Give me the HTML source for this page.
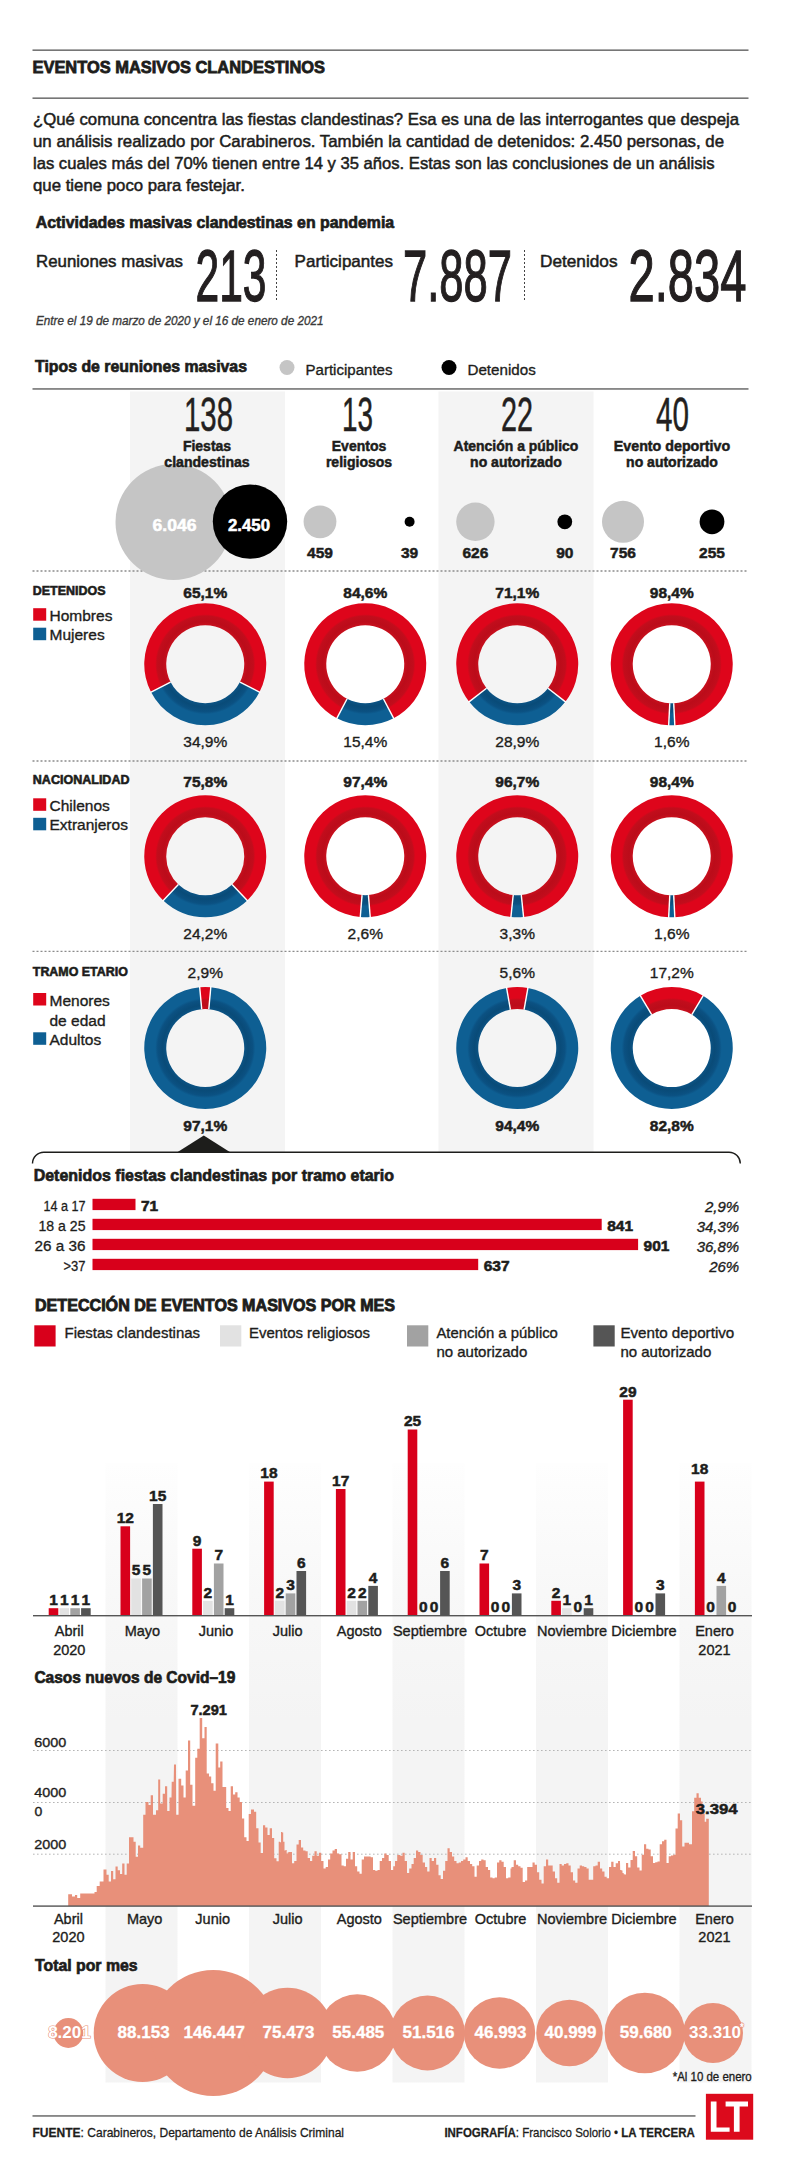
<!DOCTYPE html>
<html><head><meta charset="utf-8"><title>Eventos masivos clandestinos</title>
<style>html,body{margin:0;padding:0;background:#fff;}svg{display:block;}
text{font-family:"Liberation Sans",sans-serif;}</style></head>
<body><svg width="800" height="2184" viewBox="0 0 800 2184" font-family="Liberation Sans, sans-serif" fill="#1d1d1b">
<rect width="800" height="2184" fill="#fff"/>
<defs>
<radialGradient id="gr" gradientUnits="userSpaceOnUse" cx="0" cy="0" r="61">
<stop offset="0.64" stop-color="#c80f1d"/><stop offset="0.70" stop-color="#bb0c1a"/><stop offset="0.79" stop-color="#c20d1c"/>
<stop offset="0.82" stop-color="#de051b"/><stop offset="1" stop-color="#de051b"/></radialGradient>
<radialGradient id="gb" gradientUnits="userSpaceOnUse" cx="0" cy="0" r="61">
<stop offset="0.64" stop-color="#0b5384"/><stop offset="0.70" stop-color="#094b78"/><stop offset="0.78" stop-color="#0b5182"/>
<stop offset="0.82" stop-color="#0e5f93"/><stop offset="1" stop-color="#0e5f93"/></radialGradient>
<linearGradient id="band" gradientUnits="userSpaceOnUse" x1="0" y1="1463" x2="0" y2="1720">
<stop offset="0" stop-color="#fefefe"/><stop offset="0.5" stop-color="#f8f8f8"/><stop offset="1" stop-color="#f4f4f4"/></linearGradient>
</defs>
<rect x="32.5" y="49.5" width="716" height="1.3" fill="#555"/>
<text x="32.5" y="73" font-size="16.8" font-weight="bold" textLength="292.5" lengthAdjust="spacingAndGlyphs" stroke="#1d1d1b" stroke-width="0.8">EVENTOS MASIVOS CLANDESTINOS</text>
<rect x="32.5" y="97.5" width="716" height="1.3" fill="#555"/>
<text x="33" y="125" font-size="16.4" textLength="706" lengthAdjust="spacingAndGlyphs" stroke="#1d1d1b" stroke-width="0.5">¿Qué comuna concentra las fiestas clandestinas? Esa es una de las interrogantes que despeja</text>
<text x="33" y="147" font-size="16.4" textLength="691" lengthAdjust="spacingAndGlyphs" stroke="#1d1d1b" stroke-width="0.5">un análisis realizado por Carabineros. También la cantidad de detenidos: 2.450 personas, de</text>
<text x="33" y="169" font-size="16.4" textLength="681.5" lengthAdjust="spacingAndGlyphs" stroke="#1d1d1b" stroke-width="0.5">las cuales más del 70% tienen entre 14 y 35 años. Estas son las conclusiones de un análisis</text>
<text x="33" y="191" font-size="16.4" textLength="211.8" lengthAdjust="spacingAndGlyphs" stroke="#1d1d1b" stroke-width="0.5">que tiene poco para festejar.</text>
<text x="35.7" y="227.5" font-size="16.6" font-weight="bold" textLength="358.5" lengthAdjust="spacingAndGlyphs" stroke="#1d1d1b" stroke-width="0.7">Actividades masivas clandestinas en pandemia</text>
<text x="36" y="266.5" font-size="16.6" textLength="147" lengthAdjust="spacingAndGlyphs" stroke="#1d1d1b" stroke-width="0.5">Reuniones masivas</text>
<text x="294.6" y="266.5" font-size="16.6" textLength="98.4" lengthAdjust="spacingAndGlyphs" stroke="#1d1d1b" stroke-width="0.5">Participantes</text>
<text x="540" y="266.5" font-size="16.6" textLength="77.5" lengthAdjust="spacingAndGlyphs" stroke="#1d1d1b" stroke-width="0.5">Detenidos</text>
<text x="195.5" y="300.8" font-size="71.6" fill="#231f20" textLength="71" lengthAdjust="spacingAndGlyphs" stroke="#231f20" stroke-width="1.3">213</text>
<text x="403" y="300.8" font-size="71.6" fill="#231f20" textLength="109" lengthAdjust="spacingAndGlyphs" stroke="#231f20" stroke-width="1.3">7.887</text>
<text x="628.5" y="300.8" font-size="71.6" fill="#231f20" textLength="118" lengthAdjust="spacingAndGlyphs" stroke="#231f20" stroke-width="1.3">2.834</text>
<line x1="276.5" y1="250" x2="276.5" y2="302" stroke="#444" stroke-width="1" stroke-dasharray="2,2"/>
<line x1="524.5" y1="250" x2="524.5" y2="302" stroke="#444" stroke-width="1" stroke-dasharray="2,2"/>
<text x="36" y="324.5" font-size="13" font-style="italic" fill="#3a3a3a" textLength="287.5" lengthAdjust="spacingAndGlyphs" stroke="#3a3a3a" stroke-width="0.35">Entre el 19 de marzo de 2020 y el 16 de enero de 2021</text>
<text x="35" y="372" font-size="16.4" font-weight="bold" textLength="212" lengthAdjust="spacingAndGlyphs" stroke="#1d1d1b" stroke-width="0.7">Tipos de reuniones masivas</text>
<circle cx="287" cy="367.5" r="7.5" fill="#c5c5c5"/>
<text x="305.5" y="374.7" font-size="15.5" textLength="87" lengthAdjust="spacingAndGlyphs" stroke="#1d1d1b" stroke-width="0.35">Participantes</text>
<circle cx="449" cy="367.5" r="7.5" fill="#000"/>
<text x="467.5" y="374.7" font-size="15.5" textLength="68.2" lengthAdjust="spacingAndGlyphs" stroke="#1d1d1b" stroke-width="0.35">Detenidos</text>
<rect x="130" y="391.5" width="155" height="760.5" fill="#f4f4f4"/>
<rect x="438.5" y="391.5" width="155" height="760.5" fill="#f4f4f4"/>
<rect x="32.5" y="388.3" width="716" height="1.3" fill="#555"/>
<line x1="32.5" y1="571" x2="748" y2="571" stroke="#8c8c8c" stroke-width="1.3" stroke-dasharray="2,2"/>
<circle cx="173.5" cy="522" r="58" fill="#c5c5c5"/>
<circle cx="250" cy="521.6" r="37.2" fill="#000"/>
<text x="174.5" y="530.8" font-size="16" font-weight="bold" text-anchor="middle" fill="#fff" textLength="44" lengthAdjust="spacingAndGlyphs" stroke="#fff" stroke-width="0.5">6.046</text>
<text x="249" y="530.8" font-size="16" font-weight="bold" text-anchor="middle" fill="#fff" textLength="42" lengthAdjust="spacingAndGlyphs" stroke="#fff" stroke-width="0.5">2.450</text>
<circle cx="320" cy="521.8" r="16.4" fill="#c5c5c5"/>
<text x="320" y="558" font-size="15.5" font-weight="bold" text-anchor="middle" stroke="#1d1d1b" stroke-width="0.5">459</text>
<circle cx="409.6" cy="521.8" r="5" fill="#000"/>
<text x="409.6" y="558" font-size="15.5" font-weight="bold" text-anchor="middle" stroke="#1d1d1b" stroke-width="0.5">39</text>
<circle cx="475.4" cy="521.8" r="19.2" fill="#c5c5c5"/>
<text x="475.4" y="558" font-size="15.5" font-weight="bold" text-anchor="middle" stroke="#1d1d1b" stroke-width="0.5">626</text>
<circle cx="564.8" cy="521.8" r="7.4" fill="#000"/>
<text x="564.8" y="558" font-size="15.5" font-weight="bold" text-anchor="middle" stroke="#1d1d1b" stroke-width="0.5">90</text>
<circle cx="623" cy="521.8" r="21" fill="#c5c5c5"/>
<text x="623" y="558" font-size="15.5" font-weight="bold" text-anchor="middle" stroke="#1d1d1b" stroke-width="0.5">756</text>
<circle cx="712" cy="521.8" r="12.4" fill="#000"/>
<text x="712" y="558" font-size="15.5" font-weight="bold" text-anchor="middle" stroke="#1d1d1b" stroke-width="0.5">255</text>
<text x="184" y="431" font-size="47.6" fill="#231f20" textLength="49" lengthAdjust="spacingAndGlyphs" stroke="#231f20" stroke-width="0.5">138</text>
<text x="207" y="451.0" font-size="14" font-weight="bold" text-anchor="middle" textLength="48.2" lengthAdjust="spacingAndGlyphs" stroke="#1d1d1b" stroke-width="0.5">Fiestas</text>
<text x="207" y="466.5" font-size="14" font-weight="bold" text-anchor="middle" textLength="85.4" lengthAdjust="spacingAndGlyphs" stroke="#1d1d1b" stroke-width="0.5">clandestinas</text>
<text x="342" y="431" font-size="47.6" fill="#231f20" textLength="31" lengthAdjust="spacingAndGlyphs" stroke="#231f20" stroke-width="0.5">13</text>
<text x="359" y="451.0" font-size="14" font-weight="bold" text-anchor="middle" stroke="#1d1d1b" stroke-width="0.5">Eventos</text>
<text x="359" y="466.5" font-size="14" font-weight="bold" text-anchor="middle" stroke="#1d1d1b" stroke-width="0.5">religiosos</text>
<text x="501" y="431" font-size="47.6" fill="#231f20" textLength="32" lengthAdjust="spacingAndGlyphs" stroke="#231f20" stroke-width="0.5">22</text>
<text x="516" y="451.0" font-size="14" font-weight="bold" text-anchor="middle" textLength="124.8" lengthAdjust="spacingAndGlyphs" stroke="#1d1d1b" stroke-width="0.5">Atención a público</text>
<text x="516" y="466.5" font-size="14" font-weight="bold" text-anchor="middle" stroke="#1d1d1b" stroke-width="0.5">no autorizado</text>
<text x="656" y="431" font-size="47.6" fill="#231f20" textLength="33" lengthAdjust="spacingAndGlyphs" stroke="#231f20" stroke-width="0.5">40</text>
<text x="672" y="451.0" font-size="14" font-weight="bold" text-anchor="middle" textLength="116.3" lengthAdjust="spacingAndGlyphs" stroke="#1d1d1b" stroke-width="0.5">Evento deportivo</text>
<text x="672" y="466.5" font-size="14" font-weight="bold" text-anchor="middle" stroke="#1d1d1b" stroke-width="0.5">no autorizado</text>
<g transform="translate(205.25,664.25)">
<path d="M-54.26,27.86 A61,61 0 1 1 54.26,27.86 L34.69,17.81 A39,39 0 1 0 -34.69,17.81 Z" fill="url(#gr)"/>
<path d="M54.26,27.86 A61,61 0 0 1 -54.26,27.86 L-34.69,17.81 A39,39 0 0 0 34.69,17.81 Z" fill="url(#gb)"/>
<line x1="34.69" y1="17.81" x2="55.15" y2="28.32" stroke="#fff" stroke-width="1.4"/>
<line x1="-34.69" y1="17.81" x2="-55.15" y2="28.32" stroke="#fff" stroke-width="1.4"/>
</g>
<text x="205.25" y="597.5" font-size="15.5" font-weight="bold" text-anchor="middle" stroke="#1d1d1b" stroke-width="0.5">65,1%</text>
<text x="205.25" y="746.5" font-size="15.5" text-anchor="middle" stroke="#1d1d1b" stroke-width="0.35">34,9%</text>
<g transform="translate(365.25,664.25)">
<path d="M-28.37,54.00 A61,61 0 1 1 28.37,54.00 L18.14,34.52 A39,39 0 1 0 -18.14,34.52 Z" fill="url(#gr)"/>
<path d="M28.37,54.00 A61,61 0 0 1 -28.37,54.00 L-18.14,34.52 A39,39 0 0 0 18.14,34.52 Z" fill="url(#gb)"/>
<line x1="18.14" y1="34.52" x2="28.84" y2="54.88" stroke="#fff" stroke-width="1.4"/>
<line x1="-18.14" y1="34.52" x2="-28.84" y2="54.88" stroke="#fff" stroke-width="1.4"/>
</g>
<text x="365.25" y="597.5" font-size="15.5" font-weight="bold" text-anchor="middle" stroke="#1d1d1b" stroke-width="0.5">84,6%</text>
<text x="365.25" y="746.5" font-size="15.5" text-anchor="middle" stroke="#1d1d1b" stroke-width="0.35">15,4%</text>
<g transform="translate(517.25,664.25)">
<path d="M-48.08,37.54 A61,61 0 1 1 48.08,37.54 L30.74,24.00 A39,39 0 1 0 -30.74,24.00 Z" fill="url(#gr)"/>
<path d="M48.08,37.54 A61,61 0 0 1 -48.08,37.54 L-30.74,24.00 A39,39 0 0 0 30.74,24.00 Z" fill="url(#gb)"/>
<line x1="30.74" y1="24.00" x2="48.87" y2="38.15" stroke="#fff" stroke-width="1.4"/>
<line x1="-30.74" y1="24.00" x2="-48.87" y2="38.15" stroke="#fff" stroke-width="1.4"/>
</g>
<text x="517.25" y="597.5" font-size="15.5" font-weight="bold" text-anchor="middle" stroke="#1d1d1b" stroke-width="0.5">71,1%</text>
<text x="517.25" y="746.5" font-size="15.5" text-anchor="middle" stroke="#1d1d1b" stroke-width="0.35">28,9%</text>
<g transform="translate(671.75,664.25)">
<path d="M-3.06,60.92 A61,61 0 1 1 3.06,60.92 L1.96,38.95 A39,39 0 1 0 -1.96,38.95 Z" fill="url(#gr)"/>
<path d="M3.06,60.92 A61,61 0 0 1 -3.06,60.92 L-1.96,38.95 A39,39 0 0 0 1.96,38.95 Z" fill="url(#gb)"/>
<line x1="1.96" y1="38.95" x2="3.12" y2="61.92" stroke="#fff" stroke-width="1.4"/>
<line x1="-1.96" y1="38.95" x2="-3.12" y2="61.92" stroke="#fff" stroke-width="1.4"/>
</g>
<text x="671.75" y="597.5" font-size="15.5" font-weight="bold" text-anchor="middle" stroke="#1d1d1b" stroke-width="0.5">98,4%</text>
<text x="671.75" y="746.5" font-size="15.5" text-anchor="middle" stroke="#1d1d1b" stroke-width="0.35">1,6%</text>
<g transform="translate(205.25,856.25)">
<path d="M-42.04,44.20 A61,61 0 1 1 42.04,44.20 L26.88,28.26 A39,39 0 1 0 -26.88,28.26 Z" fill="url(#gr)"/>
<path d="M42.04,44.20 A61,61 0 0 1 -42.04,44.20 L-26.88,28.26 A39,39 0 0 0 26.88,28.26 Z" fill="url(#gb)"/>
<line x1="26.88" y1="28.26" x2="42.73" y2="44.93" stroke="#fff" stroke-width="1.4"/>
<line x1="-26.88" y1="28.26" x2="-42.73" y2="44.93" stroke="#fff" stroke-width="1.4"/>
</g>
<text x="205.25" y="787" font-size="15.5" font-weight="bold" text-anchor="middle" stroke="#1d1d1b" stroke-width="0.5">75,8%</text>
<text x="205.25" y="939" font-size="15.5" text-anchor="middle" stroke="#1d1d1b" stroke-width="0.35">24,2%</text>
<g transform="translate(365.25,856.25)">
<path d="M-4.98,60.80 A61,61 0 1 1 4.98,60.80 L3.18,38.87 A39,39 0 1 0 -3.18,38.87 Z" fill="url(#gr)"/>
<path d="M4.98,60.80 A61,61 0 0 1 -4.98,60.80 L-3.18,38.87 A39,39 0 0 0 3.18,38.87 Z" fill="url(#gb)"/>
<line x1="3.18" y1="38.87" x2="5.06" y2="61.79" stroke="#fff" stroke-width="1.4"/>
<line x1="-3.18" y1="38.87" x2="-5.06" y2="61.79" stroke="#fff" stroke-width="1.4"/>
</g>
<text x="365.25" y="787" font-size="15.5" font-weight="bold" text-anchor="middle" stroke="#1d1d1b" stroke-width="0.5">97,4%</text>
<text x="365.25" y="939" font-size="15.5" text-anchor="middle" stroke="#1d1d1b" stroke-width="0.35">2,6%</text>
<g transform="translate(517.25,856.25)">
<path d="M-6.31,60.67 A61,61 0 1 1 6.31,60.67 L4.04,38.79 A39,39 0 1 0 -4.04,38.79 Z" fill="url(#gr)"/>
<path d="M6.31,60.67 A61,61 0 0 1 -6.31,60.67 L-4.04,38.79 A39,39 0 0 0 4.04,38.79 Z" fill="url(#gb)"/>
<line x1="4.04" y1="38.79" x2="6.42" y2="61.67" stroke="#fff" stroke-width="1.4"/>
<line x1="-4.04" y1="38.79" x2="-6.42" y2="61.67" stroke="#fff" stroke-width="1.4"/>
</g>
<text x="517.25" y="787" font-size="15.5" font-weight="bold" text-anchor="middle" stroke="#1d1d1b" stroke-width="0.5">96,7%</text>
<text x="517.25" y="939" font-size="15.5" text-anchor="middle" stroke="#1d1d1b" stroke-width="0.35">3,3%</text>
<g transform="translate(671.75,856.25)">
<path d="M-3.06,60.92 A61,61 0 1 1 3.06,60.92 L1.96,38.95 A39,39 0 1 0 -1.96,38.95 Z" fill="url(#gr)"/>
<path d="M3.06,60.92 A61,61 0 0 1 -3.06,60.92 L-1.96,38.95 A39,39 0 0 0 1.96,38.95 Z" fill="url(#gb)"/>
<line x1="1.96" y1="38.95" x2="3.12" y2="61.92" stroke="#fff" stroke-width="1.4"/>
<line x1="-1.96" y1="38.95" x2="-3.12" y2="61.92" stroke="#fff" stroke-width="1.4"/>
</g>
<text x="671.75" y="787" font-size="15.5" font-weight="bold" text-anchor="middle" stroke="#1d1d1b" stroke-width="0.5">98,4%</text>
<text x="671.75" y="939" font-size="15.5" text-anchor="middle" stroke="#1d1d1b" stroke-width="0.35">1,6%</text>
<g transform="translate(205.25,1048)">
<path d="M5.55,-60.75 A61,61 0 1 1 -5.55,-60.75 L-3.55,-38.84 A39,39 0 1 0 3.55,-38.84 Z" fill="url(#gb)"/>
<path d="M-5.55,-60.75 A61,61 0 0 1 5.55,-60.75 L3.55,-38.84 A39,39 0 0 0 -3.55,-38.84 Z" fill="url(#gr)"/>
<line x1="-3.55" y1="-38.84" x2="-5.64" y2="-61.74" stroke="#fff" stroke-width="1.4"/>
<line x1="3.55" y1="-38.84" x2="5.64" y2="-61.74" stroke="#fff" stroke-width="1.4"/>
</g>
<text x="205.25" y="977.5" font-size="15.5" text-anchor="middle" stroke="#1d1d1b" stroke-width="0.35">2,9%</text>
<text x="205.25" y="1130.8" font-size="15.5" font-weight="bold" text-anchor="middle" stroke="#1d1d1b" stroke-width="0.5">97,1%</text>
<g transform="translate(517.25,1048)">
<path d="M10.68,-60.06 A61,61 0 1 1 -10.68,-60.06 L-6.83,-38.40 A39,39 0 1 0 6.83,-38.40 Z" fill="url(#gb)"/>
<path d="M-10.68,-60.06 A61,61 0 0 1 10.68,-60.06 L6.83,-38.40 A39,39 0 0 0 -6.83,-38.40 Z" fill="url(#gr)"/>
<line x1="-6.83" y1="-38.40" x2="-10.85" y2="-61.04" stroke="#fff" stroke-width="1.4"/>
<line x1="6.83" y1="-38.40" x2="10.85" y2="-61.04" stroke="#fff" stroke-width="1.4"/>
</g>
<text x="517.25" y="977.5" font-size="15.5" text-anchor="middle" stroke="#1d1d1b" stroke-width="0.35">5,6%</text>
<text x="517.25" y="1130.8" font-size="15.5" font-weight="bold" text-anchor="middle" stroke="#1d1d1b" stroke-width="0.5">94,4%</text>
<g transform="translate(671.75,1048)">
<path d="M31.38,-52.31 A61,61 0 1 1 -31.38,-52.31 L-20.06,-33.44 A39,39 0 1 0 20.06,-33.44 Z" fill="url(#gb)"/>
<path d="M-31.38,-52.31 A61,61 0 0 1 31.38,-52.31 L20.06,-33.44 A39,39 0 0 0 -20.06,-33.44 Z" fill="url(#gr)"/>
<line x1="-20.06" y1="-33.44" x2="-31.90" y2="-53.17" stroke="#fff" stroke-width="1.4"/>
<line x1="20.06" y1="-33.44" x2="31.90" y2="-53.17" stroke="#fff" stroke-width="1.4"/>
</g>
<text x="671.75" y="977.5" font-size="15.5" text-anchor="middle" stroke="#1d1d1b" stroke-width="0.35">17,2%</text>
<text x="671.75" y="1130.8" font-size="15.5" font-weight="bold" text-anchor="middle" stroke="#1d1d1b" stroke-width="0.5">82,8%</text>
<line x1="32.5" y1="761" x2="748" y2="761" stroke="#8c8c8c" stroke-width="1.3" stroke-dasharray="2,2"/>
<line x1="32.5" y1="951.3" x2="748" y2="951.3" stroke="#8c8c8c" stroke-width="1.3" stroke-dasharray="2,2"/>
<text x="32.8" y="595.2" font-size="12.6" font-weight="bold" textLength="72.7" lengthAdjust="spacingAndGlyphs" stroke="#1d1d1b" stroke-width="0.6">DETENIDOS</text>
<rect x="33.2" y="608.2" width="13" height="12.5" fill="#de051b"/>
<text x="49.5" y="620.8000000000001" font-size="15.5" stroke="#1d1d1b" stroke-width="0.35">Hombres</text>
<rect x="33.2" y="627.7" width="13" height="12.5" fill="#0e5f93"/>
<text x="49.5" y="640.3000000000001" font-size="15.5" stroke="#1d1d1b" stroke-width="0.35">Mujeres</text>
<text x="32.8" y="784.2" font-size="12.6" font-weight="bold" textLength="96.7" lengthAdjust="spacingAndGlyphs" stroke="#1d1d1b" stroke-width="0.6">NACIONALIDAD</text>
<rect x="33.2" y="798.3" width="13" height="12.5" fill="#de051b"/>
<text x="49.5" y="810.9" font-size="15.5" stroke="#1d1d1b" stroke-width="0.35">Chilenos</text>
<rect x="33.2" y="817.8" width="13" height="12.5" fill="#0e5f93"/>
<text x="49.5" y="830.4" font-size="15.5" stroke="#1d1d1b" stroke-width="0.35">Extranjeros</text>
<text x="32.8" y="975.7" font-size="12.6" font-weight="bold" textLength="95" lengthAdjust="spacingAndGlyphs" stroke="#1d1d1b" stroke-width="0.6">TRAMO ETARIO</text>
<rect x="33.2" y="993" width="13" height="12.5" fill="#de051b"/>
<text x="49.5" y="1005.6" font-size="15.5" stroke="#1d1d1b" stroke-width="0.35">Menores</text>
<text x="49.5" y="1025.6" font-size="15.5" stroke="#1d1d1b" stroke-width="0.35">de edad</text>
<rect x="33.2" y="1032.3" width="13" height="12.5" fill="#0e5f93"/>
<text x="49.5" y="1044.8999999999999" font-size="15.5" stroke="#1d1d1b" stroke-width="0.35">Adultos</text>
<path d="M32.5,1163.5 A11.3,11.3 0 0 1 43.8,1152.2 H729 A11.3,11.3 0 0 1 740.3,1163.5" fill="none" stroke="#1d1d1b" stroke-width="1.4"/>
<path d="M176.9,1152.5 L203.8,1135.6 L230.6,1152.5 Z" fill="#1d1d1b"/>
<text x="33.7" y="1181.3" font-size="16.6" font-weight="bold" textLength="360.3" lengthAdjust="spacingAndGlyphs" stroke="#1d1d1b" stroke-width="0.7">Detenidos fiestas clandestinas por tramo etario</text>
<rect x="92.5" y="1198.8" width="43.0" height="11.3" fill="#d8001b"/>
<text x="85.5" y="1211.3999999999999" font-size="15.3" text-anchor="end" textLength="42" lengthAdjust="spacingAndGlyphs" stroke="#1d1d1b" stroke-width="0.3">14 a 17</text>
<text x="140.9905" y="1211.2" font-size="15.5" font-weight="bold" stroke="#1d1d1b" stroke-width="0.6">71</text>
<text x="739.2" y="1212.0" font-size="15" font-style="italic" text-anchor="end" stroke="#1d1d1b" stroke-width="0.35">2,9%</text>
<rect x="92.5" y="1218.8" width="509.2" height="11.3" fill="#d8001b"/>
<text x="85.5" y="1231.3999999999999" font-size="15.3" text-anchor="end" textLength="47" lengthAdjust="spacingAndGlyphs" stroke="#1d1d1b" stroke-width="0.3">18 a 25</text>
<text x="607.2255" y="1231.2" font-size="15.5" font-weight="bold" stroke="#1d1d1b" stroke-width="0.6">841</text>
<text x="739.2" y="1232.0" font-size="15" font-style="italic" text-anchor="end" stroke="#1d1d1b" stroke-width="0.35">34,3%</text>
<rect x="92.5" y="1238.8" width="545.6" height="11.3" fill="#d8001b"/>
<text x="85.5" y="1251.3999999999999" font-size="15.3" text-anchor="end" textLength="51" lengthAdjust="spacingAndGlyphs" stroke="#1d1d1b" stroke-width="0.3">26 a 36</text>
<text x="643.5555" y="1251.2" font-size="15.5" font-weight="bold" stroke="#1d1d1b" stroke-width="0.6">901</text>
<text x="739.2" y="1252.0" font-size="15" font-style="italic" text-anchor="end" stroke="#1d1d1b" stroke-width="0.35">36,8%</text>
<rect x="92.5" y="1258.8" width="385.7" height="11.3" fill="#d8001b"/>
<text x="85.5" y="1271.3999999999999" font-size="15.3" text-anchor="end" textLength="22" lengthAdjust="spacingAndGlyphs" stroke="#1d1d1b" stroke-width="0.3">>37</text>
<text x="483.7035" y="1271.2" font-size="15.5" font-weight="bold" stroke="#1d1d1b" stroke-width="0.6">637</text>
<text x="739.2" y="1272.0" font-size="15" font-style="italic" text-anchor="end" stroke="#1d1d1b" stroke-width="0.35">26%</text>
<text x="35" y="1310.5" font-size="17" font-weight="bold" textLength="360" lengthAdjust="spacingAndGlyphs" stroke="#1d1d1b" stroke-width="0.9">DETECCIÓN DE EVENTOS MASIVOS POR MES</text>
<rect x="34.3" y="1325.3" width="21.3" height="21.2" fill="#d8001b"/>
<text x="64.5" y="1338.4" font-size="15" textLength="135.5" lengthAdjust="spacingAndGlyphs" stroke="#1d1d1b" stroke-width="0.35">Fiestas clandestinas</text>
<rect x="220" y="1325.3" width="21.3" height="21.2" fill="#e2e2e2"/>
<text x="249" y="1338.4" font-size="15" textLength="121" lengthAdjust="spacingAndGlyphs" stroke="#1d1d1b" stroke-width="0.35">Eventos religiosos</text>
<rect x="407" y="1325.3" width="21.3" height="21.2" fill="#a2a2a2"/>
<text x="436.4" y="1338.4" font-size="15" textLength="121.5" lengthAdjust="spacingAndGlyphs" stroke="#1d1d1b" stroke-width="0.35">Atención a público</text>
<text x="436.4" y="1356.9" font-size="15" stroke="#1d1d1b" stroke-width="0.35">no autorizado</text>
<rect x="593.4" y="1325.3" width="21.3" height="21.2" fill="#555555"/>
<text x="620.4" y="1338.4" font-size="15" textLength="113.9" lengthAdjust="spacingAndGlyphs" stroke="#1d1d1b" stroke-width="0.35">Evento deportivo</text>
<text x="620.4" y="1356.9" font-size="15" stroke="#1d1d1b" stroke-width="0.35">no autorizado</text>
<rect x="105.5" y="1463" width="72" height="619.5" fill="url(#band)"/>
<rect x="249.0" y="1463" width="72" height="619.5" fill="url(#band)"/>
<rect x="392.5" y="1463" width="72" height="619.5" fill="url(#band)"/>
<rect x="536.0" y="1463" width="72" height="619.5" fill="url(#band)"/>
<rect x="679.5" y="1463" width="72" height="619.5" fill="url(#band)"/>
<rect x="48.7" y="1608.2" width="9.6" height="7.5" fill="#d8001b"/>
<text x="53.5" y="1605.0" font-size="15.5" font-weight="bold" text-anchor="middle" stroke="#1d1d1b" stroke-width="0.5">1</text>
<rect x="59.5" y="1608.2" width="9.6" height="7.5" fill="#e2e2e2"/>
<text x="64.3" y="1605.0" font-size="15.5" font-weight="bold" text-anchor="middle" stroke="#1d1d1b" stroke-width="0.5">1</text>
<rect x="70.3" y="1608.2" width="9.6" height="7.5" fill="#a2a2a2"/>
<text x="75.1" y="1605.0" font-size="15.5" font-weight="bold" text-anchor="middle" stroke="#1d1d1b" stroke-width="0.5">1</text>
<rect x="81.1" y="1608.2" width="9.6" height="7.5" fill="#555555"/>
<text x="85.9" y="1605.0" font-size="15.5" font-weight="bold" text-anchor="middle" stroke="#1d1d1b" stroke-width="0.5">1</text>
<rect x="120.5" y="1526.3" width="9.6" height="89.4" fill="#d8001b"/>
<text x="125.3" y="1523.1" font-size="15.5" font-weight="bold" text-anchor="middle" stroke="#1d1d1b" stroke-width="0.5">12</text>
<rect x="131.3" y="1578.5" width="9.6" height="37.2" fill="#e2e2e2"/>
<text x="136.1" y="1575.2" font-size="15.5" font-weight="bold" text-anchor="middle" stroke="#1d1d1b" stroke-width="0.5">5</text>
<rect x="142.1" y="1578.5" width="9.6" height="37.2" fill="#a2a2a2"/>
<text x="146.9" y="1575.2" font-size="15.5" font-weight="bold" text-anchor="middle" stroke="#1d1d1b" stroke-width="0.5">5</text>
<rect x="152.9" y="1504.0" width="9.6" height="111.8" fill="#555555"/>
<text x="157.7" y="1500.8" font-size="15.5" font-weight="bold" text-anchor="middle" stroke="#1d1d1b" stroke-width="0.5">15</text>
<rect x="192.3" y="1548.7" width="9.6" height="67.0" fill="#d8001b"/>
<text x="197.1" y="1545.5" font-size="15.5" font-weight="bold" text-anchor="middle" stroke="#1d1d1b" stroke-width="0.5">9</text>
<rect x="203.1" y="1600.8" width="9.6" height="14.9" fill="#e2e2e2"/>
<text x="207.9" y="1597.6" font-size="15.5" font-weight="bold" text-anchor="middle" stroke="#1d1d1b" stroke-width="0.5">2</text>
<rect x="213.9" y="1563.5" width="9.6" height="52.1" fill="#a2a2a2"/>
<text x="218.7" y="1560.3" font-size="15.5" font-weight="bold" text-anchor="middle" stroke="#1d1d1b" stroke-width="0.5">7</text>
<rect x="224.7" y="1608.2" width="9.6" height="7.5" fill="#555555"/>
<text x="229.5" y="1605.0" font-size="15.5" font-weight="bold" text-anchor="middle" stroke="#1d1d1b" stroke-width="0.5">1</text>
<rect x="264.1" y="1481.6" width="9.6" height="134.1" fill="#d8001b"/>
<text x="268.9" y="1478.4" font-size="15.5" font-weight="bold" text-anchor="middle" stroke="#1d1d1b" stroke-width="0.5">18</text>
<rect x="274.9" y="1600.8" width="9.6" height="14.9" fill="#e2e2e2"/>
<text x="279.7" y="1597.6" font-size="15.5" font-weight="bold" text-anchor="middle" stroke="#1d1d1b" stroke-width="0.5">2</text>
<rect x="285.7" y="1593.4" width="9.6" height="22.4" fill="#a2a2a2"/>
<text x="290.5" y="1590.2" font-size="15.5" font-weight="bold" text-anchor="middle" stroke="#1d1d1b" stroke-width="0.5">3</text>
<rect x="296.5" y="1571.0" width="9.6" height="44.7" fill="#555555"/>
<text x="301.3" y="1567.8" font-size="15.5" font-weight="bold" text-anchor="middle" stroke="#1d1d1b" stroke-width="0.5">6</text>
<rect x="335.9" y="1489.0" width="9.6" height="126.7" fill="#d8001b"/>
<text x="340.7" y="1485.8" font-size="15.5" font-weight="bold" text-anchor="middle" stroke="#1d1d1b" stroke-width="0.5">17</text>
<rect x="346.7" y="1600.8" width="9.6" height="14.9" fill="#e2e2e2"/>
<text x="351.5" y="1597.6" font-size="15.5" font-weight="bold" text-anchor="middle" stroke="#1d1d1b" stroke-width="0.5">2</text>
<rect x="357.5" y="1600.8" width="9.6" height="14.9" fill="#a2a2a2"/>
<text x="362.3" y="1597.6" font-size="15.5" font-weight="bold" text-anchor="middle" stroke="#1d1d1b" stroke-width="0.5">2</text>
<rect x="368.3" y="1585.9" width="9.6" height="29.8" fill="#555555"/>
<text x="373.1" y="1582.7" font-size="15.5" font-weight="bold" text-anchor="middle" stroke="#1d1d1b" stroke-width="0.5">4</text>
<rect x="407.7" y="1429.5" width="9.6" height="186.2" fill="#d8001b"/>
<text x="412.5" y="1426.2" font-size="15.5" font-weight="bold" text-anchor="middle" stroke="#1d1d1b" stroke-width="0.5">25</text>
<text x="423.3" y="1612.4" font-size="15.5" font-weight="bold" text-anchor="middle" stroke="#1d1d1b" stroke-width="0.5">0</text>
<text x="434.1" y="1612.4" font-size="15.5" font-weight="bold" text-anchor="middle" stroke="#1d1d1b" stroke-width="0.5">0</text>
<rect x="440.1" y="1571.0" width="9.6" height="44.7" fill="#555555"/>
<text x="444.9" y="1567.8" font-size="15.5" font-weight="bold" text-anchor="middle" stroke="#1d1d1b" stroke-width="0.5">6</text>
<rect x="479.5" y="1563.5" width="9.6" height="52.1" fill="#d8001b"/>
<text x="484.3" y="1560.3" font-size="15.5" font-weight="bold" text-anchor="middle" stroke="#1d1d1b" stroke-width="0.5">7</text>
<text x="495.1" y="1612.4" font-size="15.5" font-weight="bold" text-anchor="middle" stroke="#1d1d1b" stroke-width="0.5">0</text>
<text x="505.9" y="1612.4" font-size="15.5" font-weight="bold" text-anchor="middle" stroke="#1d1d1b" stroke-width="0.5">0</text>
<rect x="511.9" y="1593.4" width="9.6" height="22.4" fill="#555555"/>
<text x="516.7" y="1590.2" font-size="15.5" font-weight="bold" text-anchor="middle" stroke="#1d1d1b" stroke-width="0.5">3</text>
<rect x="551.3" y="1600.8" width="9.6" height="14.9" fill="#d8001b"/>
<text x="556.1" y="1597.6" font-size="15.5" font-weight="bold" text-anchor="middle" stroke="#1d1d1b" stroke-width="0.5">2</text>
<rect x="562.1" y="1608.2" width="9.6" height="7.5" fill="#e2e2e2"/>
<text x="566.9" y="1605.0" font-size="15.5" font-weight="bold" text-anchor="middle" stroke="#1d1d1b" stroke-width="0.5">1</text>
<text x="577.7" y="1612.4" font-size="15.5" font-weight="bold" text-anchor="middle" stroke="#1d1d1b" stroke-width="0.5">0</text>
<rect x="583.7" y="1608.2" width="9.6" height="7.5" fill="#555555"/>
<text x="588.5" y="1605.0" font-size="15.5" font-weight="bold" text-anchor="middle" stroke="#1d1d1b" stroke-width="0.5">1</text>
<rect x="623.1" y="1399.7" width="9.6" height="216.1" fill="#d8001b"/>
<text x="627.9" y="1396.5" font-size="15.5" font-weight="bold" text-anchor="middle" stroke="#1d1d1b" stroke-width="0.5">29</text>
<text x="638.7" y="1612.4" font-size="15.5" font-weight="bold" text-anchor="middle" stroke="#1d1d1b" stroke-width="0.5">0</text>
<text x="649.5" y="1612.4" font-size="15.5" font-weight="bold" text-anchor="middle" stroke="#1d1d1b" stroke-width="0.5">0</text>
<rect x="655.5" y="1593.4" width="9.6" height="22.4" fill="#555555"/>
<text x="660.3" y="1590.2" font-size="15.5" font-weight="bold" text-anchor="middle" stroke="#1d1d1b" stroke-width="0.5">3</text>
<rect x="694.9" y="1481.6" width="9.6" height="134.1" fill="#d8001b"/>
<text x="699.7" y="1474.4" font-size="15.5" font-weight="bold" text-anchor="middle" stroke="#1d1d1b" stroke-width="0.5">18</text>
<text x="710.5" y="1612.4" font-size="15.5" font-weight="bold" text-anchor="middle" stroke="#1d1d1b" stroke-width="0.5">0</text>
<rect x="716.5" y="1585.9" width="9.6" height="29.8" fill="#a2a2a2"/>
<text x="721.3" y="1582.7" font-size="15.5" font-weight="bold" text-anchor="middle" stroke="#1d1d1b" stroke-width="0.5">4</text>
<text x="732.1" y="1612.4" font-size="15.5" font-weight="bold" text-anchor="middle" stroke="#1d1d1b" stroke-width="0.5">0</text>
<rect x="33" y="1615.0" width="719" height="1.4" fill="#555"/>
<text x="69.3" y="1635.8" font-size="14.5" text-anchor="middle" stroke="#1d1d1b" stroke-width="0.35">Abril</text>
<text x="142.4" y="1635.8" font-size="14.5" text-anchor="middle" stroke="#1d1d1b" stroke-width="0.35">Mayo</text>
<text x="216" y="1635.8" font-size="14.5" text-anchor="middle" stroke="#1d1d1b" stroke-width="0.35">Junio</text>
<text x="287.6" y="1635.8" font-size="14.5" text-anchor="middle" stroke="#1d1d1b" stroke-width="0.35">Julio</text>
<text x="359.3" y="1635.8" font-size="14.5" text-anchor="middle" stroke="#1d1d1b" stroke-width="0.35">Agosto</text>
<text x="430" y="1635.8" font-size="14.5" text-anchor="middle" stroke="#1d1d1b" stroke-width="0.35">Septiembre</text>
<text x="500.6" y="1635.8" font-size="14.5" text-anchor="middle" stroke="#1d1d1b" stroke-width="0.35">Octubre</text>
<text x="572" y="1635.8" font-size="14.5" text-anchor="middle" stroke="#1d1d1b" stroke-width="0.35">Noviembre</text>
<text x="644" y="1635.8" font-size="14.5" text-anchor="middle" stroke="#1d1d1b" stroke-width="0.35">Diciembre</text>
<text x="714.5" y="1635.8" font-size="14.5" text-anchor="middle" stroke="#1d1d1b" stroke-width="0.35">Enero</text>
<text x="69.3" y="1654.5" font-size="14.5" text-anchor="middle" stroke="#1d1d1b" stroke-width="0.35">2020</text>
<text x="714.5" y="1654.5" font-size="14.5" text-anchor="middle" stroke="#1d1d1b" stroke-width="0.35">2021</text>
<text x="34.4" y="1682.5" font-size="16.6" font-weight="bold" textLength="201" lengthAdjust="spacingAndGlyphs" stroke="#1d1d1b" stroke-width="0.7">Casos nuevos de Covid–19</text>
<line x1="33" y1="1750.5" x2="752" y2="1750.5" stroke="#b5b5b5" stroke-width="1" stroke-dasharray="1.6,2.4"/>
<line x1="33" y1="1802.5" x2="752" y2="1802.5" stroke="#b5b5b5" stroke-width="1" stroke-dasharray="1.6,2.4"/>
<line x1="33" y1="1854.2" x2="752" y2="1854.2" stroke="#b5b5b5" stroke-width="1" stroke-dasharray="1.6,2.4"/>
<path d="M68.2,1906 L68.2,1894.2 L72.0,1894.2 L72.0,1896.5 L75.0,1896.5 L75.0,1895.0 L77.2,1895.0 L77.2,1898.0 L80.2,1898.0 L80.2,1893.5 L88.5,1893.5 L88.5,1893.5 L94.5,1893.5 L94.5,1892.0 L96.7,1892.0 L96.7,1886.0 L99.7,1886.0 L99.7,1881.5 L103.5,1881.5 L103.5,1869.5 L106.5,1869.5 L106.5,1874.7 L108.7,1874.7 L108.7,1881.5 L111.0,1881.5 L111.0,1871.0 L113.2,1871.0 L113.2,1879.2 L115.5,1879.2 L115.5,1866.5 L117.7,1866.5 L117.7,1870.2 L120.0,1870.2 L120.0,1874.0 L122.2,1874.0 L122.2,1863.5 L124.5,1863.5 L124.5,1874.7 L126.7,1874.7 L126.7,1863.5 L129.0,1863.5 L129.0,1837.2 L133.5,1837.2 L133.5,1841.7 L135.7,1841.7 L135.7,1856.7 L138.0,1856.7 L138.0,1845.5 L140.2,1845.5 L140.2,1847.7 L143.2,1847.7 L143.2,1814.7 L145.5,1814.7 L145.5,1802.0 L148.5,1802.0 L148.5,1805.0 L150.7,1805.0 L150.7,1795.2 L153.0,1795.2 L153.0,1814.7 L156.0,1814.7 L156.0,1810.2 L158.2,1810.2 L158.2,1779.5 L160.2,1779.5 L160.2,1803.5 L162.7,1803.5 L162.7,1793.7 L165.0,1793.7 L165.0,1786.2 L167.2,1786.2 L167.2,1811.0 L169.5,1811.0 L169.5,1797.5 L171.5,1797.5 L171.7,1781.7 L173.7,1781.7 L174.0,1764.5 L176.0,1764.5 L176.2,1814.7 L178.5,1814.7 L178.5,1778.7 L179.0,1778.7 L179.0,1778.7 L181.2,1778.7 L181.2,1785.5 L183.5,1785.5 L183.5,1797.5 L185.7,1797.5 L185.7,1770.5 L188.0,1770.5 L188.0,1740.5 L190.2,1740.5 L190.2,1784.7 L192.5,1784.7 L192.5,1805.7 L195.2,1805.7 L195.2,1757.7 L197.3,1757.7 L197.3,1748.7 L199.7,1748.7 L199.7,1718.0 L202.2,1718.0 L202.2,1738.2 L204.5,1738.2 L204.5,1727.0 L206.7,1727.0 L206.7,1773.5 L209.0,1773.5 L209.0,1776.5 L211.2,1776.5 L211.2,1783.2 L213.5,1783.2 L213.5,1790.7 L215.7,1790.7 L215.7,1743.5 L218.3,1743.5 L218.3,1767.5 L220.2,1767.5 L220.2,1761.5 L222.5,1761.5 L222.5,1787.0 L226.2,1787.0 L226.2,1808.0 L228.5,1808.0 L228.5,1811.0 L230.7,1811.0 L230.7,1786.2 L233.0,1786.2 L233.0,1794.5 L235.2,1794.5 L235.2,1792.2 L237.5,1792.2 L237.5,1797.5 L239.7,1797.5 L239.7,1802.0 L242.0,1802.0 L242.0,1818.5 L244.2,1818.5 L244.2,1837.2 L246.5,1837.2 L246.5,1841.0 L248.7,1841.0 L248.7,1814.0 L251.0,1814.0 L251.0,1809.5 L254.0,1809.5 L254.0,1811.7 L256.2,1811.7 L256.2,1828.2 L258.5,1828.2 L258.5,1842.5 L260.7,1842.5 L260.7,1853.0 L263.0,1853.0 L263.0,1825.2 L265.2,1825.2 L265.2,1827.5 L267.5,1827.5 L267.5,1835.0 L269.7,1835.0 L269.7,1828.2 L272.0,1828.2 L272.0,1838.0 L274.2,1838.0 L274.2,1858.2 L276.5,1858.2 L276.5,1861.2 L278.7,1861.2 L278.7,1841.7 L280.0,1841.7 L280.0,1842.2 L281.0,1842.2 L281.0,1832.0 L282.2,1832.0 L282.2,1832.5 L283.2,1832.5 L283.2,1841.7 L284.5,1841.7 L284.5,1850.5 L285.5,1850.5 L285.5,1850.0 L286.7,1850.0 L286.7,1853.5 L287.7,1853.5 L287.7,1852.2 L289.0,1852.2 L289.0,1852.0 L292.0,1852.0 L292.0,1863.2 L294.2,1863.2 L294.2,1861.0 L296.5,1861.0 L296.5,1844.5 L298.7,1844.5 L298.7,1840.0 L301.0,1840.0 L301.0,1847.5 L303.2,1847.5 L303.2,1850.5 L305.5,1850.5 L305.5,1851.2 L307.7,1851.2 L307.7,1858.0 L310.0,1858.0 L310.0,1861.0 L312.2,1861.0 L312.2,1855.7 L314.5,1855.7 L314.5,1851.2 L316.7,1851.2 L316.7,1855.7 L319.0,1855.7 L319.0,1852.7 L321.2,1852.7 L321.2,1861.0 L323.5,1861.0 L323.5,1868.5 L325.7,1868.5 L325.7,1867.0 L328.0,1867.0 L328.0,1859.5 L330.2,1859.5 L330.2,1853.5 L332.5,1853.5 L332.5,1850.5 L334.7,1850.5 L334.7,1849.0 L337.0,1849.0 L337.0,1853.5 L339.2,1853.5 L339.2,1854.2 L341.5,1854.2 L341.5,1865.5 L343.7,1865.5 L343.7,1866.2 L346.0,1866.2 L346.0,1858.7 L348.2,1858.7 L348.2,1852.0 L350.5,1852.0 L350.5,1859.5 L352.7,1859.5 L352.7,1852.0 L355.0,1852.0 L355.0,1866.2 L357.2,1866.2 L357.2,1871.5 L359.5,1871.5 L359.5,1873.7 L361.7,1873.7 L361.7,1859.5 L364.0,1859.5 L364.0,1856.5 L370.7,1856.5 L370.7,1857.2 L373.0,1857.2 L373.0,1870.0 L375.2,1870.0 L375.2,1870.7 L377.5,1870.7 L377.5,1870.0 L379.7,1870.0 L379.7,1861.0 L382.0,1861.0 L382.0,1858.0 L384.2,1858.0 L384.2,1853.5 L386.5,1853.5 L386.5,1855.0 L388.7,1855.0 L388.7,1861.0 L391.0,1861.0 L391.0,1870.0 L393.2,1870.0 L393.2,1866.2 L395.0,1866.2 L395.0,1861.0 L395.5,1861.0 L395.5,1861.0 L397.2,1861.0 L397.2,1855.0 L400.2,1855.0 L400.2,1855.7 L402.5,1855.7 L402.5,1852.7 L404.7,1852.7 L404.7,1861.0 L407.0,1861.0 L407.0,1873.0 L409.2,1873.0 L409.2,1868.5 L411.5,1868.5 L411.5,1864.0 L413.7,1864.0 L413.7,1858.0 L416.0,1858.0 L416.0,1850.5 L418.2,1850.5 L418.2,1852.0 L420.5,1852.0 L420.5,1855.0 L422.7,1855.0 L422.7,1862.5 L425.0,1862.5 L425.0,1867.0 L427.2,1867.0 L427.2,1871.5 L429.5,1871.5 L429.5,1858.0 L431.7,1858.0 L431.7,1861.0 L434.0,1861.0 L434.0,1858.0 L436.2,1858.0 L436.2,1864.7 L438.5,1864.7 L438.5,1875.2 L440.7,1875.2 L440.7,1879.0 L443.0,1879.0 L443.0,1870.7 L445.2,1870.7 L445.2,1861.0 L447.5,1861.0 L447.5,1848.2 L449.7,1848.2 L449.7,1852.0 L452.0,1852.0 L452.0,1856.5 L454.2,1856.5 L454.2,1861.0 L456.5,1861.0 L456.5,1863.2 L458.7,1863.2 L458.7,1862.5 L461.0,1862.5 L461.0,1861.0 L463.2,1861.0 L463.2,1859.5 L465.5,1859.5 L465.5,1857.2 L467.7,1857.2 L467.7,1861.0 L470.0,1861.0 L470.0,1864.0 L472.2,1864.0 L472.2,1866.2 L474.5,1866.2 L474.5,1876.7 L476.7,1876.7 L476.7,1865.5 L479.0,1865.5 L479.0,1861.0 L481.2,1861.0 L481.2,1859.5 L483.5,1859.5 L483.5,1860.2 L485.7,1860.2 L485.7,1867.0 L488.0,1867.0 L488.0,1870.0 L490.2,1870.0 L490.2,1877.5 L492.5,1877.5 L492.5,1878.2 L494.7,1878.2 L494.7,1877.5 L497.0,1877.5 L497.0,1862.5 L499.2,1862.5 L499.2,1860.2 L501.5,1860.2 L501.5,1861.7 L503.7,1861.7 L503.7,1867.0 L506.0,1867.0 L506.0,1878.2 L508.2,1878.2 L508.2,1877.5 L510.0,1877.5 L510.0,1877.5 L510.5,1877.5 L510.5,1868.5 L511.5,1868.5 L511.5,1867.0 L513.7,1867.0 L513.7,1860.2 L516.0,1860.2 L516.0,1864.7 L518.2,1864.7 L518.2,1866.2 L520.5,1866.2 L520.5,1867.7 L522.7,1867.7 L522.7,1882.0 L525.0,1882.0 L525.0,1880.5 L527.2,1880.5 L527.2,1867.0 L532.5,1867.0 L532.5,1862.5 L534.7,1862.5 L534.7,1864.7 L537.0,1864.7 L537.0,1872.2 L539.2,1872.2 L539.2,1879.7 L541.5,1879.7 L541.5,1883.5 L543.7,1883.5 L543.7,1866.2 L546.0,1866.2 L546.0,1859.5 L548.2,1859.5 L548.2,1865.5 L552.7,1865.5 L552.7,1871.5 L555.0,1871.5 L555.0,1878.2 L557.2,1878.2 L557.2,1882.7 L559.5,1882.7 L559.5,1864.0 L561.7,1864.0 L561.7,1865.5 L564.0,1865.5 L564.0,1864.0 L566.2,1864.0 L566.2,1863.2 L568.5,1863.2 L568.5,1865.5 L570.7,1865.5 L570.7,1872.2 L573.0,1872.2 L573.0,1880.5 L575.2,1880.5 L575.2,1882.7 L577.5,1882.7 L577.5,1868.5 L579.7,1868.5 L579.7,1865.5 L582.0,1865.5 L582.0,1866.2 L584.2,1866.2 L584.2,1867.0 L586.5,1867.0 L586.5,1868.5 L588.7,1868.5 L588.7,1879.7 L593.2,1879.7 L593.2,1866.2 L595.5,1866.2 L595.5,1865.5 L597.7,1865.5 L597.7,1861.7 L600.0,1861.7 L600.0,1868.5 L602.2,1868.5 L602.2,1871.5 L604.5,1871.5 L604.5,1876.7 L606.7,1876.7 L606.7,1878.2 L609.0,1878.2 L609.0,1867.0 L611.2,1867.0 L611.2,1861.7 L613.5,1861.7 L613.5,1867.0 L615.7,1867.0 L615.7,1863.2 L618.0,1863.2 L618.0,1861.0 L620.0,1861.0 L620.2,1870.0 L621.5,1870.0 L621.5,1870.5 L622.5,1870.5 L622.5,1873.0 L623.7,1873.0 L623.7,1874.2 L624.7,1874.2 L624.7,1874.5 L626.0,1874.5 L626.0,1863.0 L628.2,1863.0 L628.2,1867.5 L630.5,1867.5 L630.5,1860.0 L632.7,1860.0 L632.7,1851.0 L635.0,1851.0 L635.0,1856.2 L637.2,1856.2 L637.2,1867.5 L639.5,1867.5 L639.5,1870.5 L641.7,1870.5 L641.7,1854.7 L644.0,1854.7 L644.0,1844.2 L646.2,1844.2 L646.2,1848.7 L648.5,1848.7 L648.5,1849.5 L650.7,1849.5 L650.7,1856.2 L653.0,1856.2 L653.0,1863.0 L655.2,1863.0 L655.2,1862.2 L657.5,1862.2 L657.5,1861.5 L659.7,1861.5 L659.7,1844.2 L662.0,1844.2 L662.0,1841.2 L664.2,1841.2 L664.2,1839.7 L666.5,1839.7 L666.5,1863.0 L668.7,1863.0 L668.7,1856.2 L671.0,1856.2 L671.0,1855.5 L673.2,1855.5 L673.2,1854.7 L675.5,1854.7 L675.5,1828.5 L677.7,1828.5 L677.7,1813.5 L680.0,1813.5 L680.0,1820.2 L682.2,1820.2 L682.2,1846.5 L684.5,1846.5 L684.5,1842.7 L686.7,1842.7 L686.7,1842.7 L689.0,1842.7 L689.0,1844.2 L692.0,1844.2 L692.0,1811.2 L694.2,1811.2 L694.2,1797.7 L696.5,1797.7 L696.5,1793.2 L698.7,1793.2 L698.7,1797.7 L701.0,1797.7 L701.0,1801.5 L702.5,1801.5 L702.5,1813.5 L704.7,1813.5 L704.7,1821.7 L706.2,1821.7 L706.2,1818.7 L708.8,1818.7 L708.8,1906 Z" fill="#e8907a"/>
<rect x="33" y="1905.4" width="719" height="1.4" fill="#555"/>
<text x="34.2" y="1746.5" font-size="13" textLength="32" lengthAdjust="spacingAndGlyphs" stroke="#1d1d1b" stroke-width="0.35">6000</text>
<text x="34.2" y="1796.5" font-size="13" textLength="32" lengthAdjust="spacingAndGlyphs" stroke="#1d1d1b" stroke-width="0.35">4000</text>
<text x="34.5" y="1815.5" font-size="13" textLength="7.8" lengthAdjust="spacingAndGlyphs" stroke="#1d1d1b" stroke-width="0.35">0</text>
<text x="34.2" y="1848.5" font-size="13" textLength="32" lengthAdjust="spacingAndGlyphs" stroke="#1d1d1b" stroke-width="0.35">2000</text>
<text x="190.4" y="1715" font-size="15" font-weight="bold" textLength="36.6" lengthAdjust="spacingAndGlyphs" stroke="#1d1d1b" stroke-width="0.5">7.291</text>
<text x="695.7" y="1814.2" font-size="15" font-weight="bold" textLength="42" lengthAdjust="spacingAndGlyphs" stroke="#1d1d1b" stroke-width="0.5">3.394</text>
<text x="68.4" y="1924.3" font-size="14.5" text-anchor="middle" stroke="#1d1d1b" stroke-width="0.35">Abril</text>
<text x="144.7" y="1924.3" font-size="14.5" text-anchor="middle" stroke="#1d1d1b" stroke-width="0.35">Mayo</text>
<text x="212.7" y="1924.3" font-size="14.5" text-anchor="middle" stroke="#1d1d1b" stroke-width="0.35">Junio</text>
<text x="287.6" y="1924.3" font-size="14.5" text-anchor="middle" stroke="#1d1d1b" stroke-width="0.35">Julio</text>
<text x="359.3" y="1924.3" font-size="14.5" text-anchor="middle" stroke="#1d1d1b" stroke-width="0.35">Agosto</text>
<text x="430" y="1924.3" font-size="14.5" text-anchor="middle" stroke="#1d1d1b" stroke-width="0.35">Septiembre</text>
<text x="500.6" y="1924.3" font-size="14.5" text-anchor="middle" stroke="#1d1d1b" stroke-width="0.35">Octubre</text>
<text x="572" y="1924.3" font-size="14.5" text-anchor="middle" stroke="#1d1d1b" stroke-width="0.35">Noviembre</text>
<text x="644" y="1924.3" font-size="14.5" text-anchor="middle" stroke="#1d1d1b" stroke-width="0.35">Diciembre</text>
<text x="714.5" y="1924.3" font-size="14.5" text-anchor="middle" stroke="#1d1d1b" stroke-width="0.35">Enero</text>
<text x="68.4" y="1941.5" font-size="14.5" text-anchor="middle" stroke="#1d1d1b" stroke-width="0.35">2020</text>
<text x="714.5" y="1941.5" font-size="14.5" text-anchor="middle" stroke="#1d1d1b" stroke-width="0.35">2021</text>
<text x="35" y="1971" font-size="16.6" font-weight="bold" textLength="102.6" lengthAdjust="spacingAndGlyphs" stroke="#1d1d1b" stroke-width="0.7">Total por mes</text>
<circle cx="68.4" cy="2033" r="14.9" fill="#e8907a"/>
<circle cx="142.6" cy="2033" r="48.9" fill="#e8907a"/>
<circle cx="213.3" cy="2033" r="63.0" fill="#e8907a"/>
<circle cx="287.5" cy="2033" r="45.2" fill="#e8907a"/>
<circle cx="357.3" cy="2033" r="38.8" fill="#e8907a"/>
<circle cx="427.5" cy="2033" r="37.4" fill="#e8907a"/>
<circle cx="499.5" cy="2033" r="35.7" fill="#e8907a"/>
<circle cx="569.5" cy="2033" r="33.3" fill="#e8907a"/>
<circle cx="644.8" cy="2033" r="40.2" fill="#e8907a"/>
<circle cx="713.0" cy="2033" r="30.0" fill="#e8907a"/>
<text x="69.4" y="2038.4" font-size="17" font-weight="bold" text-anchor="middle" fill="#fff" stroke="#e8907a" stroke-width="1.2" paint-order="stroke">8.201</text>
<text x="143.6" y="2038.4" font-size="17" font-weight="bold" text-anchor="middle" fill="#fff" stroke="#fff" stroke-width="0.3">88.153</text>
<text x="214.3" y="2038.4" font-size="17" font-weight="bold" text-anchor="middle" fill="#fff" stroke="#fff" stroke-width="0.3">146.447</text>
<text x="288.5" y="2038.4" font-size="17" font-weight="bold" text-anchor="middle" fill="#fff" stroke="#fff" stroke-width="0.3">75.473</text>
<text x="358.3" y="2038.4" font-size="17" font-weight="bold" text-anchor="middle" fill="#fff" stroke="#fff" stroke-width="0.3">55.485</text>
<text x="428.5" y="2038.4" font-size="17" font-weight="bold" text-anchor="middle" fill="#fff" stroke="#fff" stroke-width="0.3">51.516</text>
<text x="500.5" y="2038.4" font-size="17" font-weight="bold" text-anchor="middle" fill="#fff" stroke="#fff" stroke-width="0.3">46.993</text>
<text x="570.5" y="2038.4" font-size="17" font-weight="bold" text-anchor="middle" fill="#fff" stroke="#fff" stroke-width="0.3">40.999</text>
<text x="645.8" y="2038.4" font-size="17" font-weight="bold" text-anchor="middle" fill="#fff" stroke="#fff" stroke-width="0.3">59.680</text>
<text x="715" y="2038.4" font-size="17" font-weight="bold" text-anchor="middle" fill="#fff" stroke="#e8907a" stroke-width="1.2" paint-order="stroke">33.310</text>
<text x="740" y="2031" font-size="10" font-weight="bold" fill="#fff" stroke="#e8907a" stroke-width="1" paint-order="stroke">*</text>
<text x="672.7" y="2080.6" font-size="13" textLength="79" lengthAdjust="spacingAndGlyphs" stroke="#1d1d1b" stroke-width="0.35">*Al 10 de enero</text>
<rect x="32.5" y="2115.3" width="663" height="1.3" fill="#555"/>
<text x="32.5" y="2136.5" font-size="13.5" stroke="#1d1d1b" stroke-width="0.3" textLength="311.5" lengthAdjust="spacingAndGlyphs"><tspan font-weight="bold">FUENTE</tspan>: Carabineros, Departamento de Análisis Criminal</text>
<text x="444.4" y="2136.5" font-size="13.5" stroke="#1d1d1b" stroke-width="0.3" textLength="250.4" lengthAdjust="spacingAndGlyphs"><tspan font-weight="bold">INFOGRAFÍA</tspan>: Francisco Solorio • <tspan font-weight="bold">LA TERCERA</tspan></text>
<rect x="705.9" y="2093.8" width="47.3" height="45.9" fill="#dc0a1c"/>
<path d="M710.8,2101.6 H716.5 V2127.6 H729.6 V2131.8 H710.8 Z" fill="#fff"/>
<path d="M725.6,2101.6 H748 V2106.4 H739.6 V2131.8 H733.9 V2106.4 H725.6 Z" fill="#fff"/>
</svg></body></html>
